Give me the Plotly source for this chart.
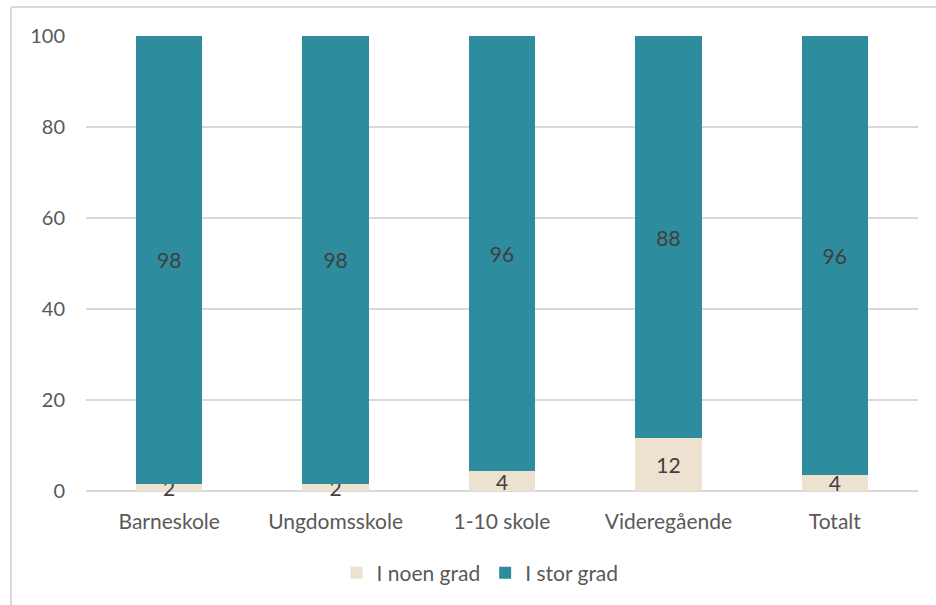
import plotly.graph_objects as go

categories = ["Barneskole", "Ungdomsskole", "1-10 skole", "Videregående", "Totalt"]
noen_grad = [1.6, 1.6, 4.3, 11.6, 3.6]
stor_grad = [98.4, 98.4, 95.7, 88.4, 96.4]
y_ticks = [0, 20, 40, 60, 80, 100]

FONT = "Lato"
TXT = "#595959"
LBL = 21

fig = go.Figure()
fig.add_trace(go.Bar(
    name="I noen grad", x=categories, y=noen_grad,
    marker=dict(color="#EDE1D0", line=dict(width=0)),
    texttemplate="%{y:.0f}", textposition="inside", insidetextanchor="middle",
    textangle=0, textfont=dict(family=FONT, size=LBL, color="#404040"),
    constraintext="none", cliponaxis=False,
))
fig.add_trace(go.Bar(
    name="I stor grad", x=categories, y=stor_grad,
    marker=dict(color="#2E8C9F", line=dict(width=0)),
    texttemplate="%{y:.0f}", textposition="inside", insidetextanchor="middle",
    textangle=0, textfont=dict(family=FONT, size=LBL, color="#404040"),
    constraintext="none",
))

fig.update_layout(
    barmode="stack",
    bargap=0.6,
    width=936, height=605,
    margin=dict(l=86, r=18, t=36, b=114, autoexpand=False),
    paper_bgcolor="white", plot_bgcolor="white",
    font=dict(family=FONT, size=20, color=TXT),
    uniformtext=dict(minsize=LBL, mode="show"),
    showlegend=True,
    legend=dict(orientation="h", x=(480 - 86) / 832, xanchor="center",
                y=(491 - 573) / 455, yanchor="middle",
                font=dict(family=FONT, size=21, color=TXT), traceorder="normal",
                itemwidth=30),
    xaxis=dict(showgrid=False, showline=False, ticks="", ticklabelstandoff=16,
               tickfont=dict(size=21, color=TXT)),
    yaxis=dict(range=[0, 100], tickvals=y_ticks, showgrid=True, gridcolor="#D9D9D9",
               gridwidth=1.5, zeroline=True, zerolinecolor="#D9D9D9", zerolinewidth=2,
               showline=False, ticks="", ticklabelstandoff=20,
               tickfont=dict(size=20, color=TXT)),
    shapes=[
        dict(type="line", xref="paper", yref="paper", x0=(11 - 86) / 832, x1=1.03,
             y0=(491 - 7) / 455, y1=(491 - 7) / 455, line=dict(color="#D9D9D9", width=2)),
        dict(type="line", xref="paper", yref="paper", x0=(11 - 86) / 832, x1=(11 - 86) / 832,
             y0=(491 - 7) / 455, y1=-0.3, line=dict(color="#D9D9D9", width=2)),
    ],
)

fig.write_html("out.html", config={"displayModeBar": False},
               post_script="document.body.style.margin='0';")
